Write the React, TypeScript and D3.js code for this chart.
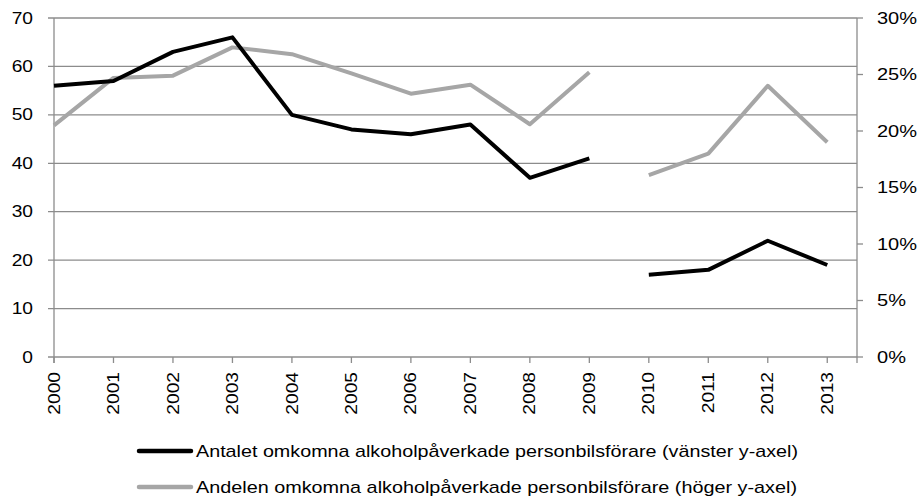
import React from "react";
import * as d3 from "d3";

const years = [2000, 2001, 2002, 2003, 2004, 2005, 2006, 2007, 2008, 2009, 2010, 2011, 2012, 2013];
const antal: (number | null)[] = [56, 57, 63, 66, 50, 47, 46, 48, 37, 41, 17, 18, 24, 19];
const andel: (number | null)[] = [20.5, 24.7, 24.9, 27.4, 26.8, 25.1, 23.3, 24.1, 20.6, 25.2, 16.1, 18.0, 24.0, 19.0];
const gapAfter = 2009;
const leftTicks = [0, 10, 20, 30, 40, 50, 60, 70];
const rightTicks = [0, 5, 10, 15, 20, 25, 30];
const legendLabels = [
  "Antalet omkomna alkoholpåverkade personbilsförare (vänster y-axel)",
  "Andelen omkomna alkoholpåverkade personbilsförare (höger y-axel)",
];

const W = 922, H = 500;
const left = 54, right = 857, top = 18, bottom = 357;
const font = "'Liberation Sans', Arial, Helvetica, sans-serif";
const BLACK = "#000000";
const GREY = "#a6a6a6";
const AXIS = "#8c8c8c";
const SX = 1.2;

export default function App() {
  const x = d3.scaleLinear().domain([2000, 2013.5]).range([left, right]);
  const yL = d3.scaleLinear().domain([0, 70]).range([bottom, top]);
  const yR = d3.scaleLinear().domain([0, 30]).range([bottom, top]);

  const mk = (vals: (number | null)[], y: d3.ScaleLinear<number, number>) => {
    const segs: [number, number][][] = [[], []];
    years.forEach((yr, i) => {
      const v = vals[i];
      if (v == null) return;
      segs[yr <= gapAfter ? 0 : 1].push([x(yr), y(v)]);
    });
    const line = d3.line();
    return segs.map((s) => line(s) || "");
  };
  const blackPaths = mk(antal, yL);
  const greyPaths = mk(andel, yR);

  return (
    <svg width={W} height={H} style={{ position: "absolute", left: 0, top: 0, background: "#fff" }}>
      {leftTicks.map((t) => (
        <g key={"l" + t}>
          <line x1={left - 6} x2={right} y1={yL(t)} y2={yL(t)} stroke={AXIS} strokeWidth={1.3} />
          <text
            transform={`translate(33,${yL(t)}) scale(${SX},1)`}
            dy="0.35em"
            textAnchor="end"
            fontFamily={font}
            fontSize={16}
            fill="#000"
          >
            {t}
          </text>
        </g>
      ))}
      <line x1={left} x2={left} y1={top} y2={bottom + 6} stroke={AXIS} strokeWidth={1.3} />
      <line x1={right} x2={right} y1={top} y2={bottom + 6} stroke={AXIS} strokeWidth={1.3} />
      {rightTicks.map((t) => (
        <g key={"r" + t}>
          <line x1={right} x2={right + 6} y1={yR(t)} y2={yR(t)} stroke={AXIS} strokeWidth={1.3} />
          <text
            transform={`translate(877,${yR(t)}) scale(1.25,1)`}
            dy="0.35em"
            textAnchor="start"
            fontFamily={font}
            fontSize={16}
            fill="#000"
          >
            {t}%
          </text>
        </g>
      ))}
      {years.map((yr) => (
        <g key={"x" + yr}>
          <line x1={x(yr)} x2={x(yr)} y1={bottom} y2={bottom + 6} stroke={AXIS} strokeWidth={1.3} />
          <text
            transform={`translate(${x(yr)},${bottom + 15}) rotate(-90) scale(${SX},1)`}
            dy="0.35em"
            textAnchor="end"
            fontFamily={font}
            fontSize={16}
            fill="#000"
          >
            {yr}
          </text>
        </g>
      ))}
      {greyPaths.map((d, i) => (
        <path key={"g" + i} d={d} fill="none" stroke={GREY} strokeWidth={4} strokeLinejoin="round" />
      ))}
      {blackPaths.map((d, i) => (
        <path key={"b" + i} d={d} fill="none" stroke={BLACK} strokeWidth={4} strokeLinejoin="round" />
      ))}
      {legendLabels.map((lab, i) => {
        const ly = 451 + i * 36;
        return (
          <g key={"lg" + i}>
            <line x1={139} x2={191} y1={ly} y2={ly} stroke={i === 0 ? BLACK : GREY} strokeWidth={4.5} strokeLinecap="round" />
            <text
              x={196}
              y={ly}
              dy="0.35em"
              fontFamily={font}
              fontSize={17}
              fill="#000"
              textLength={i === 0 ? 602 : 601}
              lengthAdjust="spacingAndGlyphs"
            >
              {lab}
            </text>
          </g>
        );
      })}
    </svg>
  );
}
